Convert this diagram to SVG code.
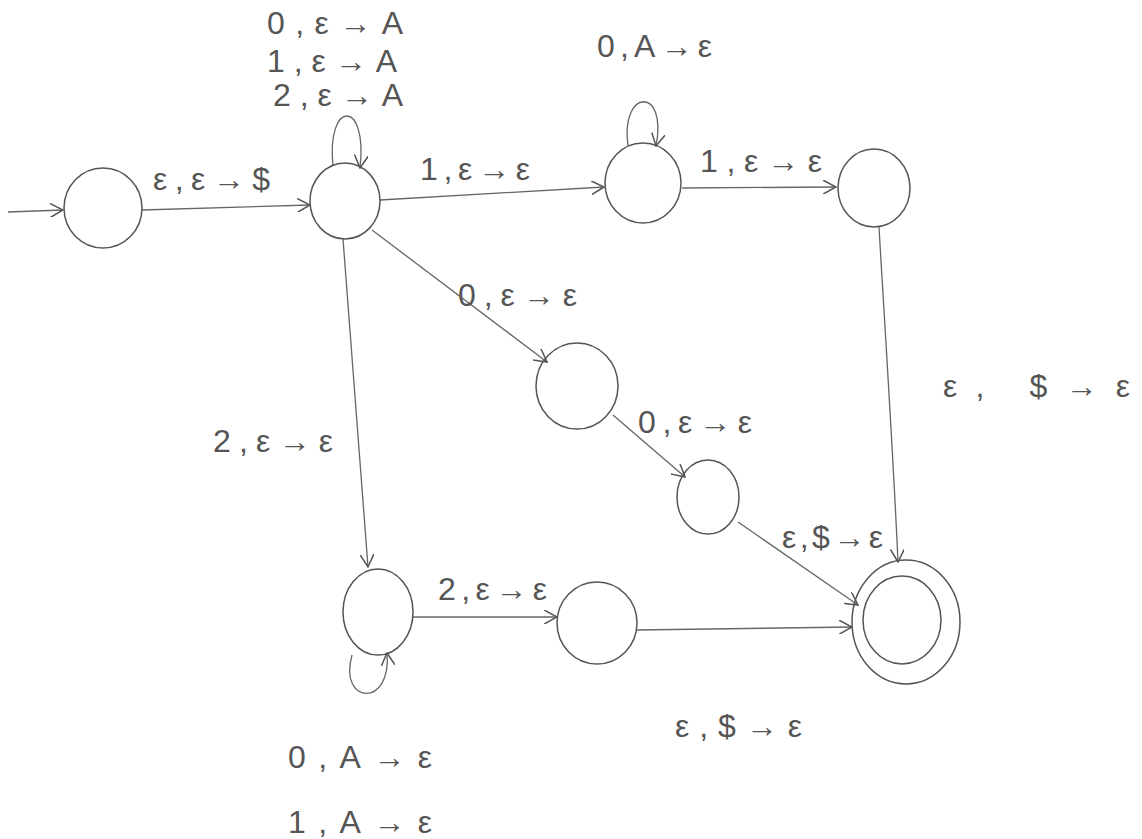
<svg xmlns="http://www.w3.org/2000/svg" width="1142" height="839" viewBox="0 0 1142 839">
<defs>
<style>
.st{fill:none;stroke:#555;stroke-width:1.5}
.cn{fill:none;stroke:#666;stroke-width:1.3;marker-end:url(#ah)}
.lb{font-family:"Liberation Sans",Arial,sans-serif;fill:#555;font-size:32px}
</style>
<marker id="ah" viewBox="0 0 12 12" refX="11" refY="6" markerWidth="14" markerHeight="14" markerUnits="userSpaceOnUse" orient="auto">
<path d="M0,0 L11,6 L0,12" fill="none" stroke="#555" stroke-width="1.3"/>
</marker>
</defs>
<rect width="1142" height="839" fill="#fff"/>
<g id="connectors">
<path class="cn" d="M8,212 L63,210"/>
<path class="cn" d="M142,210 L310,205"/>
<path class="cn" d="M333,166 C326,100 368,98 360,168"/>
<path class="cn" d="M380,200 L604,187"/>
<path class="cn" d="M628,146 C620,88 668,86 656,146"/>
<path class="cn" d="M682,188 L836,187"/>
<path class="cn" d="M879,227 C885,330 893,450 898,562"/>
<path class="cn" d="M372,230 L547,362"/>
<path class="cn" d="M613,415 L685,477"/>
<path class="cn" d="M738,522 L858,605"/>
<path class="cn" d="M343,239 L368,567"/>
<path class="cn" d="M352,655 C338,705 392,708 387,653"/>
<path class="cn" d="M413,617 L557,617"/>
<path class="cn" d="M637,630 L852,627"/>
</g>
<g id="labels">
<text class="lb" x="267" y="34" textLength="136" lengthAdjust="spacing" font-size="30">0,ε→A</text>
<text class="lb" x="267" y="72" textLength="130" lengthAdjust="spacing" font-size="24">1,ε→A</text>
<text class="lb" x="273" y="106" textLength="130" lengthAdjust="spacing" font-size="24">2,ε→A</text>
<text class="lb" x="153" y="190" textLength="117" lengthAdjust="spacing">ε,ε→$</text>
<text class="lb" x="597" y="57" textLength="115" lengthAdjust="spacing">0,A→ε</text>
<text class="lb" x="420" y="180" textLength="110" lengthAdjust="spacing">1,ε→ε</text>
<text class="lb" x="700" y="172" textLength="122" lengthAdjust="spacing">1,ε→ε</text>
<text class="lb" x="458" y="306" textLength="119" lengthAdjust="spacing" font-size="34">0,ε→ε</text>
<text class="lb" x="638" y="433" textLength="114" lengthAdjust="spacing">0,ε→ε</text>
<text class="lb" x="213" y="452" textLength="120" lengthAdjust="spacing">2,ε→ε</text>
<text class="lb" x="782" y="548" textLength="101" lengthAdjust="spacing" font-size="34">ε,$→ε</text>
<text class="lb" x="943" y="397" textLength="187" lengthAdjust="spacing" font-size="44">ε, $→ε</text>
<text class="lb" x="438" y="600" textLength="109" lengthAdjust="spacing">2,ε→ε</text>
<text class="lb" x="675" y="737" textLength="127" lengthAdjust="spacing" font-size="40">ε,$→ε</text>
<text class="lb" x="288" y="768" textLength="144" lengthAdjust="spacing">0,A→ε</text>
<text class="lb" x="288" y="833" textLength="144" lengthAdjust="spacing">1,A→ε</text>
</g>
<g id="q0"><ellipse class="st" cx="103" cy="208" rx="39" ry="40"/></g>
<g id="q1"><ellipse class="st" cx="345" cy="201" rx="35" ry="38"/></g>
<g id="q2"><ellipse class="st" cx="643" cy="183" rx="38" ry="40"/></g>
<g id="q3"><ellipse class="st" cx="874" cy="188" rx="36" ry="39"/></g>
<g id="q4"><ellipse class="st" cx="577" cy="386" rx="41" ry="43"/></g>
<g id="q5"><ellipse class="st" cx="708" cy="497" rx="31" ry="37"/></g>
<g id="q6"><ellipse class="st" cx="378" cy="612" rx="35" ry="43"/></g>
<g id="q7"><ellipse class="st" cx="597" cy="623" rx="40" ry="41"/></g>
<g id="qf"><ellipse class="st" cx="906" cy="622" rx="54" ry="62"/><ellipse class="st" cx="902" cy="620" rx="39" ry="44"/></g>
</svg>
